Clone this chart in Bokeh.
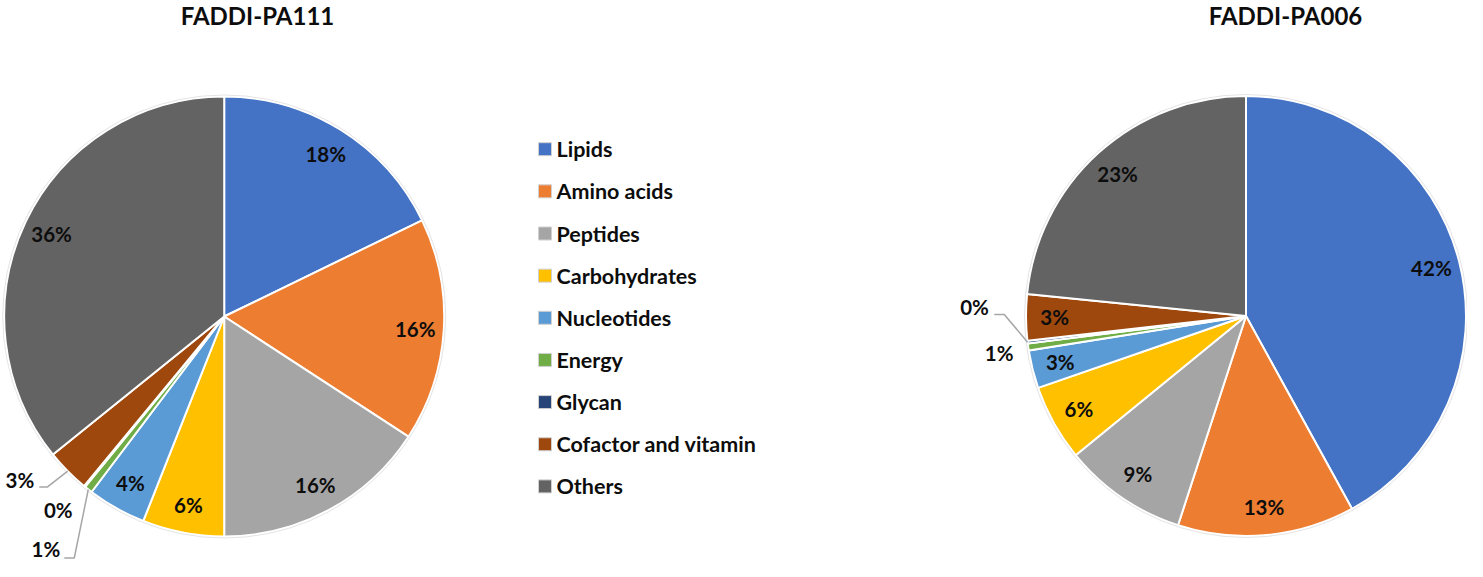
import math
from bokeh.plotting import figure
from bokeh.models import Range1d, ColumnDataSource
from bokeh.embed import file_html
from bokeh.resources import INLINE
from bokeh.core.properties import value

# ---------------- data ----------------
categories = ["Lipids", "Amino acids", "Peptides", "Carbohydrates", "Nucleotides",
              "Energy", "Glycan", "Cofactor and vitamin", "Others"]
colors = ["#4472C4", "#ED7D31", "#A5A5A5", "#FFC000", "#5B9BD5",
          "#70AD47", "#264478", "#9E480E", "#636363"]
pa111_values = [17.8, 16.4, 15.8, 6.0, 4.3, 0.6, 0.1, 3.2, 35.8]
pa111_labels = ["18%", "16%", "16%", "6%", "4%", "1%", "0%", "3%", "36%"]
pa006_values = [42.0, 13.0, 9.1, 5.6, 2.8, 0.5, 0.2, 3.4, 23.4]
pa006_labels = ["42%", "13%", "9%", "6%", "3%", "1%", "0%", "3%", "23%"]
titles = ["FADDI-PA111", "FADDI-PA006"]

# ---------------- layout ----------------
W, H = 1467, 561
FONT = "Lato"
TXT = "#0d0d0d"


def Y(sy):
    return 577 - sy


p = figure(width=W, height=H, output_backend="svg", toolbar_location=None,
           x_range=Range1d(8, 8 + W), y_range=Range1d(8, 8 + H),
           x_axis_location=None, y_axis_location=None, min_border=0,
           background_fill_color="white", border_fill_color="white")
p.grid.visible = False
p.outline_line_color = None

R = 220
pies = [
    dict(cx=231.7, cy=Y(324.0), vals=pa111_values, labels=pa111_labels, title=titles[0], tx=265,
         # outside labels: idx -> (label offset dx, dy (screen, down +), leader pts)
         outside={7: ((-47.8, 8.8), [(0, 0), (-20.1, 15.8), (-28.4, 15.8)]),
                  6: ((-26.2, 23.2), None),
                  5: ((-42.4, 60.0), [(0, 0), (-14.0, 68.5), (-24.0, 68.5)])}),
    dict(cx=1253.5, cy=Y(323.5), vals=pa006_values, labels=pa006_labels, title=titles[1], tx=1293,
         outside={6: ((-53.0, -35.5), [(0, 0), (-23.3, -27.8), (-33.3, -27.8)]),
                  5: ((-29.0, 6.5), None)}),
]

for pie in pies:
    vals = pie["vals"]
    tot = sum(vals)
    cum = [0.0]
    for v in vals:
        cum.append(cum[-1] + v / tot)
    starts = [math.pi / 2 - 2 * math.pi * cum[i + 1] for i in range(len(vals))]
    ends = [math.pi / 2 - 2 * math.pi * cum[i] for i in range(len(vals))]
    src = ColumnDataSource(dict(x=[pie["cx"]] * len(vals), y=[pie["cy"]] * len(vals),
                                s=starts, e=ends, c=colors))
    p.wedge(x="x", y="y", radius=R, start_angle="s", end_angle="e", direction="anticlock",
            fill_color="c", line_color="white", line_width=2, source=src)
    # faint outer ring
    p.circle(x=[pie["cx"]], y=[pie["cy"]], radius=R + 1.5, fill_color=None,
             line_color="#E4E4E4", line_width=1)

    lx, ly, lt = [], [], []
    for i, v in enumerate(vals):
        tm = (cum[i] + cum[i + 1]) / 2 * 2 * math.pi
        if i in pie["outside"]:
            (odx, ody), pts = pie["outside"][i]
            ax = pie["cx"] + R * math.sin(tm)
            ay = pie["cy"] + R * math.cos(tm)
            lx.append(ax + odx)
            ly.append(ay - ody)
            if pts:
                p.line(x=[ax + a for a, b in pts], y=[ay - b for a, b in pts],
                       line_color="#A6A6A6", line_width=1.5)
        else:
            f = 0.87
            lx.append(pie["cx"] + f * R * math.sin(tm))
            ly.append(pie["cy"] + f * R * math.cos(tm))
        lt.append(pie["labels"][i])
    p.text(x=lx, y=ly, text=lt, text_font=value(FONT), text_font_style="bold",
           text_font_size="20.5px", text_align="center", text_baseline="middle",
           text_color=TXT)

    p.text(x=[pie["tx"]], y=[Y(22.5)], text=[pie["title"]], text_font=value(FONT),
           text_font_style="bold", text_font_size="24px", text_align="center",
           text_baseline="middle", text_color=TXT)

# ---------------- legend ----------------
n = len(categories)
ly0, pitch = 156.7, 42.15
leg_y = [Y(ly0 + i * pitch) for i in range(n)]
p.rect(x=[552.5] * n, y=leg_y, width=13, height=13, fill_color=colors,
       line_color="#D0D0D0", line_width=1)
p.text(x=[564] * n, y=leg_y, text=categories, text_font=value(FONT),
       text_font_style="bold", text_font_size="21.5px", text_align="left",
       text_baseline="middle", text_color=TXT)

open("out.html", "w").write(file_html(p, INLINE))
